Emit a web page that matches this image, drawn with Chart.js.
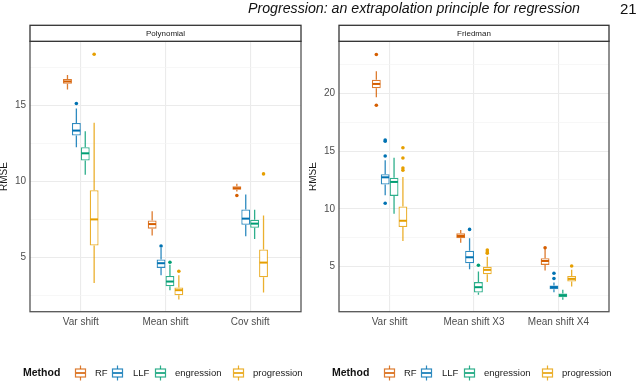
<!DOCTYPE html>
<html><head><meta charset="utf-8">
<script src="https://cdn.jsdelivr.net/npm/chart.js@4.4.1/dist/chart.umd.min.js"></script>
<style>
body{margin:0;width:640px;height:382px;position:relative;background:#fff;overflow:hidden;font-family:"Liberation Sans",Arial,sans-serif}
.hd{position:absolute;top:1px;font-size:14.2px;line-height:15px;color:#111;white-space:nowrap;z-index:2}
#hdr{left:248px;font-style:italic}
#pg{left:620px;font-size:15px}
#c1{position:absolute;left:0;top:0}
#c2{position:absolute;left:309px;top:0}
</style></head>
<body>
<canvas id="c1" width="309" height="382"></canvas>
<canvas id="c2" width="331" height="382"></canvas>
<div class="hd" id="hdr">Progression: an extrapolation principle for regression</div>
<div class="hd" id="pg">21</div>
<script>
// ---- data: box stats are [lower whisker, Q1, median, Q3, upper whisker] ----
const methods = ['RF', 'LLF', 'engression', 'progression'];
const methodColors = ['#D55E00', '#0072B2', '#009E73', '#E69F00'];

const polyCategories = ['Var shift', 'Mean shift', 'Cov shift'];
const polyRF   = [[16.07,16.45,16.60,16.76,17.02],[6.43,6.89,7.19,7.43,8.03],[9.34,9.45,9.56,9.69,9.85]];
const polyLLF  = [[12.26,13.03,13.36,13.86,14.82],[3.82,4.30,4.61,4.85,5.61],[6.38,7.15,7.55,8.16,9.14]];
const polyEng  = [[10.44,11.38,11.86,12.26,13.31],[2.83,3.09,3.40,3.77,4.50],[6.20,6.95,7.22,7.48,8.14]];
const polyProg = [[3.31,5.77,7.50,9.43,13.88],[2.22,2.50,2.83,3.01,3.82],[2.68,3.68,4.65,5.51,7.76]];
const polyRFOut   = [[],[],[9.08]];
const polyLLFOut  = [[15.15],[5.74],[]];
const polyEngOut  = [[],[4.67],[]];
const polyProgOut = [[18.40],[4.08],[10.50]];
const polyMajorTicks = [5, 10, 15];
const polyMinorTicks = [2.5, 7.5, 12.5, 17.5];

const friedCategories = ['Var shift', 'Mean shift X3', 'Mean shift X4'];
const friedRF   = [[19.66,20.43,20.81,21.18,21.90],[7.07,7.45,7.65,7.88,8.16],[4.66,5.15,5.49,5.72,6.55]];
const friedLLF  = [[11.18,12.10,12.73,12.99,14.20],[4.78,5.29,5.81,6.38,7.45],[2.79,3.05,3.22,3.36,3.62]];
const friedEng  = [[9.57,11.12,12.33,12.70,14.43],[2.56,2.76,3.22,3.66,4.57],[2.13,2.36,2.53,2.67,2.99]];
const friedProg = [[7.22,8.42,8.97,10.21,12.76],[3.66,4.34,4.72,5.00,5.86],[3.28,3.71,3.94,4.20,4.72]];
const friedRFOut   = [[23.36,18.97],[],[6.64]];
const friedLLFOut  = [[15.85,15.95,14.57,10.49],[8.22],[3.97,4.43]];
const friedEngOut  = [[],[5.12],[]];
const friedProgOut = [[15.29,14.40,13.53,13.34],[6.44,6.27,6.16],[5.06]];
const friedMajorTicks = [5, 10, 15, 20];
const friedMinorTicks = [2.5, 7.5, 12.5, 17.5, 22.5];

// ---- rendering ----
const FONT = '"Liberation Sans", Arial, sans-serif';
function rgba(hex, a) {
  const n = parseInt(hex.slice(1), 16);
  return `rgba(${(n>>16)&255},${(n>>8)&255},${n&255},${a})`;
}

const boxPlugin = {
  id: 'boxExtras',
  afterDatasetsDraw(chart) {
    const ctx = chart.ctx, ys = chart.scales.y;
    chart.data.datasets.forEach((ds, di) => {
      const meta = chart.getDatasetMeta(di);
      meta.data.forEach((bar, i) => {
        const st = ds.stats[i];
        const x = bar.x, w = bar.width;
        ctx.save();
        ctx.strokeStyle = ds.borderColor;
        ctx.lineWidth = 1.3;
        ctx.beginPath();
        ctx.moveTo(x, ys.getPixelForValue(st[3])); ctx.lineTo(x, ys.getPixelForValue(st[4]));
        ctx.moveTo(x, ys.getPixelForValue(st[1])); ctx.lineTo(x, ys.getPixelForValue(st[0]));
        ctx.stroke();
        ctx.strokeStyle = ds.medianColor;
        ctx.lineWidth = 2;
        ctx.beginPath();
        const my = ys.getPixelForValue(st[2]);
        ctx.moveTo(x - w / 2 + 0.6, my); ctx.lineTo(x + w / 2 - 0.6, my);
        ctx.stroke();
        ctx.fillStyle = ds.medianColor;
        ds.outliers[i].forEach(v => {
          ctx.beginPath();
          ctx.arc(x, ys.getPixelForValue(v), 1.8, 0, Math.PI * 2);
          ctx.fill();
        });
        ctx.restore();
      });
    });
  }
};

const framePlugin = {
  id: 'frame',
  afterDraw(chart, args, opts) {
    const ctx = chart.ctx;
    const {left, right, top, bottom} = chart.chartArea;
    ctx.save();
    ctx.strokeStyle = '#555';
    ctx.lineWidth = 1.3;
    ctx.strokeRect(left, top, right - left, bottom - top);
    ctx.fillStyle = '#fff';
    ctx.fillRect(left, top - 16, right - left, 16);
    ctx.strokeStyle = '#333';
    ctx.strokeRect(left, top - 16, right - left, 16);
    ctx.fillStyle = '#1a1a1a';
    ctx.font = `8px ${FONT}`;
    ctx.textAlign = 'center';
    ctx.textBaseline = 'middle';
    ctx.fillText(opts.strip, (left + right) / 2, top - 8);
    const x0 = left - 7, cy = 373;
    ctx.textAlign = 'left';
    ctx.fillStyle = '#111';
    ctx.font = `bold 10.5px ${FONT}`;
    ctx.fillText('Method', x0, cy);
    const glyphOff = [52, 89, 132, 210];
    const textOff = [72, 110, 152, 230];
    ctx.font = `9.5px ${FONT}`;
    chart.data.datasets.forEach((ds, i) => {
      const gx = x0 + glyphOff[i];
      ctx.strokeStyle = ds.borderColor;
      ctx.lineWidth = 1.2;
      ctx.strokeRect(gx + 0.5, cy - 4, 10, 8);
      ctx.beginPath();
      ctx.moveTo(gx + 5.5, cy - 4); ctx.lineTo(gx + 5.5, cy - 7.5);
      ctx.moveTo(gx + 5.5, cy + 4); ctx.lineTo(gx + 5.5, cy + 7.5);
      ctx.stroke();
      ctx.strokeStyle = ds.medianColor;
      ctx.lineWidth = 1.6;
      ctx.beginPath();
      ctx.moveTo(gx + 1, cy); ctx.lineTo(gx + 10, cy);
      ctx.stroke();
      ctx.fillStyle = '#1a1a1a';
      ctx.fillText(ds.label, x0 + textOff[i], cy);
    });
    ctx.restore();
  }
};

function makeChart(id, strip, cats, stats, outs, yMin, yMax, majors, minors, padRight) {
  const datasets = methods.map((m, k) => ({
    label: m,
    data: stats[k].map((s, i) => ({x: i + 1, y: [s[1], s[3]]})),
    stats: stats[k],
    outliers: outs[k],
    backgroundColor: '#ffffff',
    borderColor: rgba(methodColors[k], 0.82),
    medianColor: methodColors[k],
    borderWidth: 1.3,
    borderSkipped: false,
    categoryPercentage: 0.42,
    barPercentage: 1.0
  }));
  const allTicks = majors.concat(minors).sort((a, b) => a - b);
  return new Chart(document.getElementById(id), {
    type: 'bar',
    data: {datasets},
    options: {
      responsive: false,
      animation: false,
      layout: {padding: {left: 0, right: padRight, top: 41.3, bottom: 50.3}},
      plugins: {legend: {display: false}, tooltip: {enabled: false}, frame: {strip}},
      scales: {
        x: {
          type: 'linear', min: 0.4, max: cats.length + 0.6, offset: false,
          grid: {color: '#EBEBEB', lineWidth: 1.1, drawTicks: false, offset: false},
          border: {display: false},
          afterBuildTicks: s => { s.ticks = cats.map((c, i) => ({value: i + 1})); },
          ticks: {callback: v => cats[v - 1] || '', padding: 5, autoSkip: false, maxRotation: 0,
                  font: {family: FONT, size: 10}, color: '#4D4D4D'},
          afterFit: s => { s.height = 20; }
        },
        y: {
          min: yMin, max: yMax,
          grid: {
            color: c => majors.includes(c.tick && c.tick.value) ? '#EBEBEB' : '#F4F4F4',
            lineWidth: c => majors.includes(c.tick && c.tick.value) ? 1.1 : 0.7,
            drawTicks: false
          },
          border: {display: false},
          afterBuildTicks: s => { s.ticks = allTicks.map(v => ({value: v})); },
          ticks: {callback: v => majors.includes(v) ? String(v) : '', padding: 4, autoSkip: false,
                  font: {family: FONT, size: 10}, color: '#4D4D4D'},
          title: {display: true, text: 'RMSE', color: '#1a1a1a', padding: 0,
                  font: {family: FONT, size: 10, lineHeight: 0.8}},
          afterFit: s => { s.width = 30; }
        }
      }
    },
    plugins: [boxPlugin, framePlugin]
  });
}

makeChart('c1', 'Polynomial', polyCategories,
  [polyRF, polyLLF, polyEng, polyProg], [polyRFOut, polyLLFOut, polyEngOut, polyProgOut],
  1.41, 19.25, polyMajorTicks, polyMinorTicks, 8);
makeChart('c2', 'Friedman', friedCategories,
  [friedRF, friedLLF, friedEng, friedProg], [friedRFOut, friedLLFOut, friedEngOut, friedProgOut],
  1.1, 24.5, friedMajorTicks, friedMinorTicks, 31);
</script>
</body></html>
